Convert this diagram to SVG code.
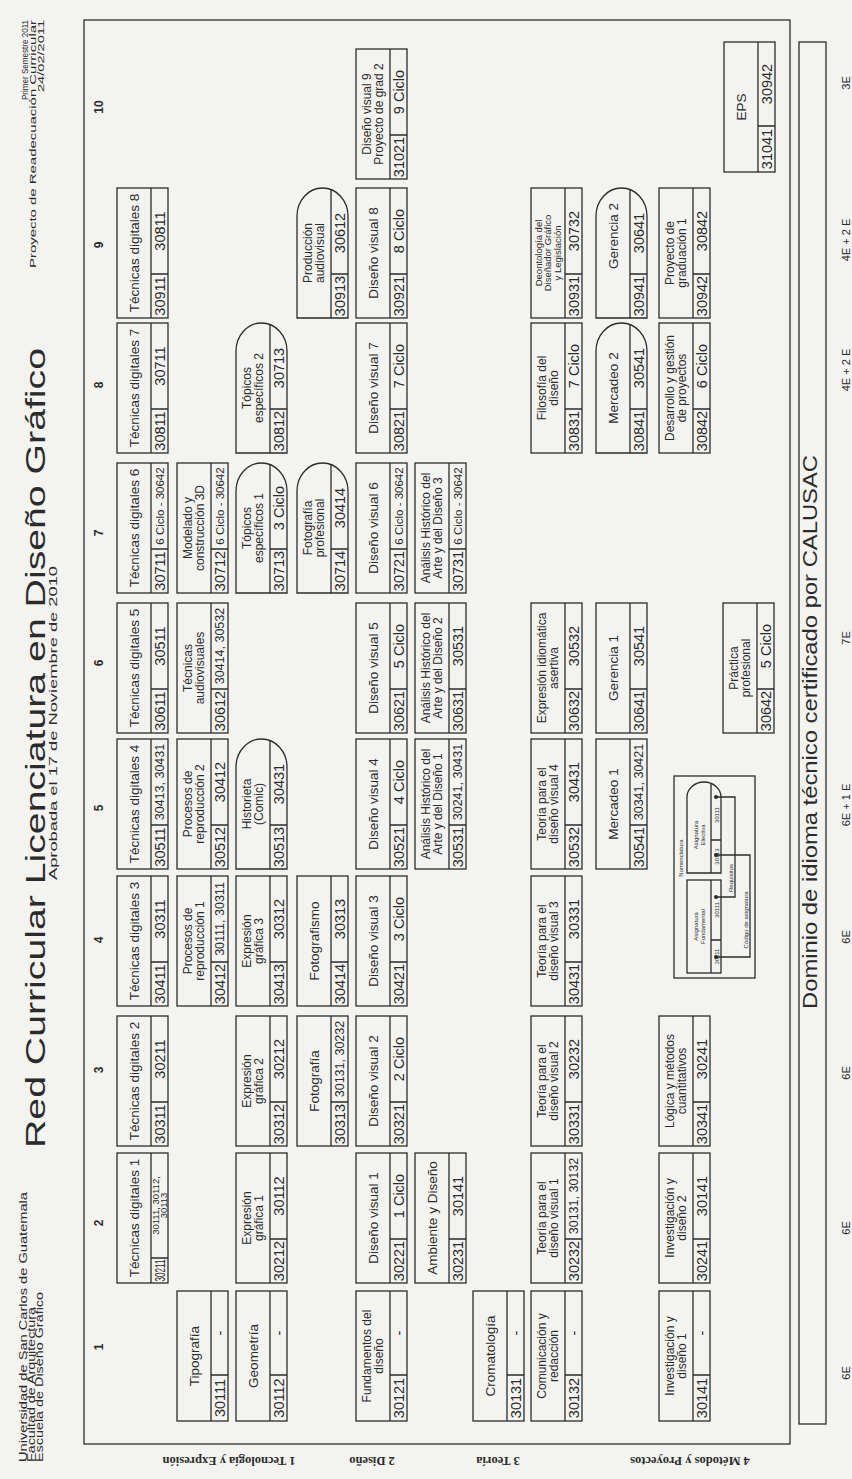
<svg xmlns="http://www.w3.org/2000/svg" width="852" height="1479" viewBox="0 0 852 1479">
<defs><style>
.bg{fill:#f3f3f0}
.b{fill:none;stroke:#2b2b2b;stroke-width:1.3}
.t{font-family:'Liberation Sans',Arial,sans-serif;fill:#2b2b2b;text-anchor:middle}
.nm{font-size:13.5px}
.n2{font-size:12px}
.n3{font-size:9.5px}
.cd{font-size:14.5px}
.p2{font-size:12.5px}
.p3{font-size:11.5px}
.p4{font-size:9.5px}
.hd{font-family:'Liberation Sans',Arial,sans-serif;fill:#2b2b2b}
.num{font-family:'Liberation Sans',Arial,sans-serif;font-weight:bold;font-size:12px;fill:#2b2b2b;text-anchor:middle}
.rl{font-family:'Liberation Serif','Times New Roman',serif;font-weight:bold;font-size:12.5px;fill:#2b2b2b;text-anchor:middle}
.lg{font-size:6px}
.dot{fill:#2b2b2b}
</style></defs>
<rect class="bg" width="852" height="1479"/>

<g id="header">
<text class="hd" font-size="28" transform="translate(45,1148) rotate(-90)" textLength="800" lengthAdjust="spacingAndGlyphs">Red Curricular Licenciatura en Diseño Gráfico</text>
<text class="hd" font-size="11.5" transform="translate(57,880) rotate(-90)" textLength="314" lengthAdjust="spacingAndGlyphs">Aprobada el 17 de Noviembre de 2010</text>
<text class="hd" font-size="10" transform="translate(27,1462) rotate(-90)" textLength="270" lengthAdjust="spacingAndGlyphs">Universidad de San Carlos de Guatemala</text>
<text class="hd" font-size="10" transform="translate(35,1462) rotate(-90)" textLength="155" lengthAdjust="spacingAndGlyphs">Facultad de Arquitectura</text>
<text class="hd" font-size="10" transform="translate(43,1462) rotate(-90)" textLength="170" lengthAdjust="spacingAndGlyphs">Escuela de Diseño Gráfico</text>
<text class="hd" font-size="9.5" transform="translate(28,100) rotate(-90)" textLength="80" lengthAdjust="spacingAndGlyphs">Primer Semestre 2011</text>
<text class="hd" font-size="9.5" transform="translate(36,268) rotate(-90)" textLength="248" lengthAdjust="spacingAndGlyphs">Proyecto de Readecuación Curricular</text>
<text class="hd" font-size="9.5" transform="translate(44,92) rotate(-90)" textLength="72" lengthAdjust="spacingAndGlyphs">24/02/2011</text>
</g>

<rect id="frame" class="b" x="84" y="20" width="706" height="1424"/>

<g id="colnums">
<text class="num" transform="translate(103,1347) rotate(-90)">1</text>
<text class="num" transform="translate(103,1223) rotate(-90)">2</text>
<text class="num" transform="translate(103,1070) rotate(-90)">3</text>
<text class="num" transform="translate(103,940) rotate(-90)">4</text>
<text class="num" transform="translate(103,808) rotate(-90)">5</text>
<text class="num" transform="translate(103,663) rotate(-90)">6</text>
<text class="num" transform="translate(103,533) rotate(-90)">7</text>
<text class="num" transform="translate(103,385) rotate(-90)">8</text>
<text class="num" transform="translate(103,245) rotate(-90)">9</text>
<text class="num" transform="translate(103,107) rotate(-90)">10</text>
</g>

<g id="rowlabels">
<text class="rl" transform="translate(229,1457) rotate(180)">1 Tecnología y Expresión</text>
<text class="rl" transform="translate(372,1457) rotate(180)">2 Diseño</text>
<text class="rl" transform="translate(498,1457) rotate(180)">3 Teoría</text>
<text class="rl" transform="translate(690,1457) rotate(180)">4 Métodos y Proyectos</text>
</g>

<!-- Column 1 -->
<g id="n30111" transform="translate(177,1421) rotate(-90)"><rect class="b" width="130" height="51"/><path class="b" d="M0 34H130M46 34V51"/><text class="t nm" x="65" y="21.5">Tipografía</text><text class="t cd" x="23" y="47.5">30111</text><text class="t cd" x="88" y="47.5">-</text></g>
<g id="n30112" transform="translate(236,1421) rotate(-90)"><rect class="b" width="130" height="51"/><path class="b" d="M0 34H130M46 34V51"/><text class="t nm" x="65" y="21.5">Geometría</text><text class="t cd" x="23" y="47.5">30112</text><text class="t cd" x="88" y="47.5">-</text></g>
<g id="n30121" transform="translate(356,1421) rotate(-90)"><rect class="b" width="130" height="51"/><path class="b" d="M0 34H130M46 34V51"/><text class="t n2" x="65" y="14.5">Fundamentos del<tspan x="65" y="27">diseño</tspan></text><text class="t cd" x="23" y="47.5">30121</text><text class="t cd" x="88" y="47.5">-</text></g>
<g id="n30131" transform="translate(473,1421) rotate(-90)"><rect class="b" width="130" height="51"/><path class="b" d="M0 34H130M46 34V51"/><text class="t nm" x="65" y="21.5">Cromatología</text><text class="t cd" x="23" y="47.5">30131</text><text class="t cd" x="88" y="47.5">-</text></g>
<g id="n30132" transform="translate(531,1421) rotate(-90)"><rect class="b" width="130" height="51"/><path class="b" d="M0 34H130M46 34V51"/><text class="t n2" x="65" y="14.5">Comunicación y<tspan x="65" y="27">redacción</tspan></text><text class="t cd" x="23" y="47.5">30132</text><text class="t cd" x="88" y="47.5">-</text></g>
<g id="n30141" transform="translate(659,1421) rotate(-90)"><rect class="b" width="130" height="51"/><path class="b" d="M0 34H130M46 34V51"/><text class="t n2" x="65" y="14.5">Investigación y<tspan x="65" y="27">diseño 1</tspan></text><text class="t cd" x="23" y="47.5">30141</text><text class="t cd" x="88" y="47.5">-</text></g>

<!-- Column 2 -->
<g id="n30211" transform="translate(117,1283) rotate(-90)"><rect class="b" width="130" height="51"/><path class="b" d="M0 34H130M25 34V51"/><text class="t nm" x="65" y="21.5">Técnicas digitales 1</text><text class="t cd" x="12.5" y="47.5" textLength="22" lengthAdjust="spacingAndGlyphs">30211</text><text class="t p4" x="77.5" y="42">30111, 30112,<tspan x="77.5" y="50">30113</tspan></text></g>
<g id="n30212" transform="translate(236,1283) rotate(-90)"><rect class="b" width="130" height="51"/><path class="b" d="M0 34H130M44 34V51"/><text class="t n2" x="65" y="14.5">Expresión<tspan x="65" y="27">gráfica 1</tspan></text><text class="t cd" x="22" y="47.5">30212</text><text class="t cd" x="87" y="47.5">30112</text></g>
<g id="n30221" transform="translate(356,1283) rotate(-90)"><rect class="b" width="130" height="51"/><path class="b" d="M0 34H130M44 34V51"/><text class="t nm" x="65" y="21.5">Diseño visual 1</text><text class="t cd" x="22" y="47.5">30221</text><text class="t cd" x="87" y="47.5">1 Ciclo</text></g>
<g id="n30231" transform="translate(415,1283) rotate(-90)"><rect class="b" width="130" height="51"/><path class="b" d="M0 34H130M44 34V51"/><text class="t nm" x="65" y="21.5">Ambiente y Diseño</text><text class="t cd" x="22" y="47.5">30231</text><text class="t cd" x="87" y="47.5">30141</text></g>
<g id="n30232" transform="translate(531,1283) rotate(-90)"><rect class="b" width="130" height="51"/><path class="b" d="M0 34H130M44 34V51"/><text class="t n2" x="65" y="14.5">Teoría para el<tspan x="65" y="27">diseño visual 1</tspan></text><text class="t cd" x="22" y="47.5">30232</text><text class="t p2" x="87" y="47">30131, 30132</text></g>
<g id="n30241" transform="translate(659,1283) rotate(-90)"><rect class="b" width="130" height="51"/><path class="b" d="M0 34H130M44 34V51"/><text class="t n2" x="65" y="14.5">Investigación y<tspan x="65" y="27">diseño 2</tspan></text><text class="t cd" x="22" y="47.5">30241</text><text class="t cd" x="87" y="47.5">30141</text></g>

<!-- Column 3 -->
<g id="n30311" transform="translate(117,1146) rotate(-90)"><rect class="b" width="130" height="51"/><path class="b" d="M0 34H130M44 34V51"/><text class="t nm" x="65" y="21.5">Técnicas digitales 2</text><text class="t cd" x="22" y="47.5">30311</text><text class="t cd" x="87" y="47.5">30211</text></g>
<g id="n30312" transform="translate(236,1146) rotate(-90)"><rect class="b" width="130" height="51"/><path class="b" d="M0 34H130M44 34V51"/><text class="t n2" x="65" y="14.5">Expresión<tspan x="65" y="27">gráfica 2</tspan></text><text class="t cd" x="22" y="47.5">30312</text><text class="t cd" x="87" y="47.5">30212</text></g>
<g id="n30313" transform="translate(297,1146) rotate(-90)"><rect class="b" width="130" height="51"/><path class="b" d="M0 34H130M44 34V51"/><text class="t nm" x="65" y="21.5">Fotografía</text><text class="t cd" x="22" y="47.5">30313</text><text class="t p2" x="87" y="47">30131, 30232</text></g>
<g id="n30321" transform="translate(356,1146) rotate(-90)"><rect class="b" width="130" height="51"/><path class="b" d="M0 34H130M44 34V51"/><text class="t nm" x="65" y="21.5">Diseño visual 2</text><text class="t cd" x="22" y="47.5">30321</text><text class="t cd" x="87" y="47.5">2 Ciclo</text></g>
<g id="n30331" transform="translate(531,1146) rotate(-90)"><rect class="b" width="130" height="51"/><path class="b" d="M0 34H130M44 34V51"/><text class="t n2" x="65" y="14.5">Teoría para el<tspan x="65" y="27">diseño visual 2</tspan></text><text class="t cd" x="22" y="47.5">30331</text><text class="t cd" x="87" y="47.5">30232</text></g>
<g id="n30341" transform="translate(659,1146) rotate(-90)"><rect class="b" width="130" height="51"/><path class="b" d="M0 34H130M44 34V51"/><text class="t n2" x="65" y="14.5">Lógica y métodos<tspan x="65" y="27">cuantitativos</tspan></text><text class="t cd" x="22" y="47.5">30341</text><text class="t cd" x="87" y="47.5">30241</text></g>

<!-- Column 4 -->
<g id="n30411" transform="translate(117,1006) rotate(-90)"><rect class="b" width="130" height="51"/><path class="b" d="M0 34H130M44 34V51"/><text class="t nm" x="65" y="21.5">Técnicas digitales 3</text><text class="t cd" x="22" y="47.5">30411</text><text class="t cd" x="87" y="47.5">30311</text></g>
<g id="n30412" transform="translate(177,1006) rotate(-90)"><rect class="b" width="130" height="51"/><path class="b" d="M0 34H130M44 34V51"/><text class="t n2" x="65" y="14.5">Procesos de<tspan x="65" y="27">reproducción 1</tspan></text><text class="t cd" x="22" y="47.5">30412</text><text class="t p2" x="87" y="47">30111, 30311</text></g>
<g id="n30413" transform="translate(236,1006) rotate(-90)"><rect class="b" width="130" height="51"/><path class="b" d="M0 34H130M44 34V51"/><text class="t n2" x="65" y="14.5">Expresión<tspan x="65" y="27">gráfica 3</tspan></text><text class="t cd" x="22" y="47.5">30413</text><text class="t cd" x="87" y="47.5">30312</text></g>
<g id="n30414" transform="translate(297,1006) rotate(-90)"><rect class="b" width="130" height="51"/><path class="b" d="M0 34H130M44 34V51"/><text class="t nm" x="65" y="21.5">Fotografismo</text><text class="t cd" x="22" y="47.5">30414</text><text class="t cd" x="87" y="47.5">30313</text></g>
<g id="n30421" transform="translate(356,1006) rotate(-90)"><rect class="b" width="130" height="51"/><path class="b" d="M0 34H130M44 34V51"/><text class="t nm" x="65" y="21.5">Diseño visual 3</text><text class="t cd" x="22" y="47.5">30421</text><text class="t cd" x="87" y="47.5">3 Ciclo</text></g>
<g id="n30431" transform="translate(531,1006) rotate(-90)"><rect class="b" width="130" height="51"/><path class="b" d="M0 34H130M44 34V51"/><text class="t n2" x="65" y="14.5">Teoría para el<tspan x="65" y="27">diseño visual 3</tspan></text><text class="t cd" x="22" y="47.5">30431</text><text class="t cd" x="87" y="47.5">30331</text></g>

<!-- Column 5 -->
<g id="n30511" transform="translate(117,869) rotate(-90)"><rect class="b" width="130" height="51"/><path class="b" d="M0 34H130M44 34V51"/><text class="t nm" x="65" y="21.5">Técnicas digitales 4</text><text class="t cd" x="22" y="47.5">30511</text><text class="t p2" x="87" y="47">30413, 30431</text></g>
<g id="n30512" transform="translate(177,869) rotate(-90)"><rect class="b" width="130" height="51"/><path class="b" d="M0 34H130M44 34V51"/><text class="t n2" x="65" y="14.5">Procesos de<tspan x="65" y="27">reproducción 2</tspan></text><text class="t cd" x="22" y="47.5">30512</text><text class="t cd" x="87" y="47.5">30412</text></g>
<g id="n30513" transform="translate(236,869) rotate(-90)"><path class="b" d="M0 0H102A28 25.5 0 0 1 102 51H0Z"/><path class="b" d="M0 34H128.4M44 34V51"/><text class="t n2" x="65" y="14.5">Historieta<tspan x="65" y="27">(Comic)</tspan></text><text class="t cd" x="22" y="47.5">30513</text><text class="t cd" x="85" y="47.5">30431</text></g>
<g id="n30521" transform="translate(356,869) rotate(-90)"><rect class="b" width="130" height="51"/><path class="b" d="M0 34H130M44 34V51"/><text class="t nm" x="65" y="21.5">Diseño visual 4</text><text class="t cd" x="22" y="47.5">30521</text><text class="t cd" x="87" y="47.5">4 Ciclo</text></g>
<g id="n30531" transform="translate(415,869) rotate(-90)"><rect class="b" width="130" height="51"/><path class="b" d="M0 34H130M44 34V51"/><text class="t n2" x="65" y="14.5">Análisis Histórico del<tspan x="65" y="27">Arte y del Diseño 1</tspan></text><text class="t cd" x="22" y="47.5">30531</text><text class="t p2" x="87" y="47">30241, 30431</text></g>
<g id="n30532" transform="translate(531,869) rotate(-90)"><rect class="b" width="130" height="51"/><path class="b" d="M0 34H130M44 34V51"/><text class="t n2" x="65" y="14.5">Teoría para el<tspan x="65" y="27">diseño visual 4</tspan></text><text class="t cd" x="22" y="47.5">30532</text><text class="t cd" x="87" y="47.5">30431</text></g>
<g id="n30541" transform="translate(596,869) rotate(-90)"><rect class="b" width="130" height="51"/><path class="b" d="M0 34H130M44 34V51"/><text class="t nm" x="65" y="21.5">Mercadeo 1</text><text class="t cd" x="22" y="47.5">30541</text><text class="t p2" x="87" y="47">30341, 30421</text></g>

<!-- Column 6 -->
<g id="n30611" transform="translate(117,733) rotate(-90)"><rect class="b" width="130" height="51"/><path class="b" d="M0 34H130M44 34V51"/><text class="t nm" x="65" y="21.5">Técnicas digitales 5</text><text class="t cd" x="22" y="47.5">30611</text><text class="t cd" x="87" y="47.5">30511</text></g>
<g id="n30612" transform="translate(177,733) rotate(-90)"><rect class="b" width="130" height="51"/><path class="b" d="M0 34H130M44 34V51"/><text class="t n2" x="65" y="14.5">Técnicas<tspan x="65" y="27">audiovisuales</tspan></text><text class="t cd" x="22" y="47.5">30612</text><text class="t p2" x="87" y="47">30414, 30532</text></g>
<g id="n30621" transform="translate(356,733) rotate(-90)"><rect class="b" width="130" height="51"/><path class="b" d="M0 34H130M44 34V51"/><text class="t nm" x="65" y="21.5">Diseño visual 5</text><text class="t cd" x="22" y="47.5">30621</text><text class="t cd" x="87" y="47.5">5 Ciclo</text></g>
<g id="n30631" transform="translate(415,733) rotate(-90)"><rect class="b" width="130" height="51"/><path class="b" d="M0 34H130M44 34V51"/><text class="t n2" x="65" y="14.5">Análisis Histórico del<tspan x="65" y="27">Arte y del Diseño 2</tspan></text><text class="t cd" x="22" y="47.5">30631</text><text class="t cd" x="87" y="47.5">30531</text></g>
<g id="n30632" transform="translate(531,733) rotate(-90)"><rect class="b" width="130" height="51"/><path class="b" d="M0 34H130M44 34V51"/><text class="t n2" x="65" y="14.5">Expresión idiomática<tspan x="65" y="27">asertiva</tspan></text><text class="t cd" x="22" y="47.5">30632</text><text class="t cd" x="87" y="47.5">30532</text></g>
<g id="n30641" transform="translate(596,733) rotate(-90)"><rect class="b" width="130" height="51"/><path class="b" d="M0 34H130M44 34V51"/><text class="t nm" x="65" y="21.5">Gerencia 1</text><text class="t cd" x="22" y="47.5">30641</text><text class="t cd" x="87" y="47.5">30541</text></g>
<g id="n30642" transform="translate(723,733) rotate(-90)"><rect class="b" width="130" height="51"/><path class="b" d="M0 34H130M44 34V51"/><text class="t n2" x="65" y="14.5">Práctica<tspan x="65" y="27">profesional</tspan></text><text class="t cd" x="22" y="47.5">30642</text><text class="t cd" x="87" y="47.5">5 Ciclo</text></g>

<!-- Column 7 -->
<g id="n30711" transform="translate(117,593) rotate(-90)"><rect class="b" width="130" height="51"/><path class="b" d="M0 34H130M44 34V51"/><text class="t nm" x="65" y="21.5">Técnicas digitales 6</text><text class="t cd" x="22" y="47.5">30711</text><text class="t p3" x="87" y="46.5">6 Ciclo - 30642</text></g>
<g id="n30712" transform="translate(177,593) rotate(-90)"><rect class="b" width="130" height="51"/><path class="b" d="M0 34H130M44 34V51"/><text class="t n2" x="65" y="14.5">Modelado y<tspan x="65" y="27">construcción 3D</tspan></text><text class="t cd" x="22" y="47.5">30712</text><text class="t p3" x="87" y="46.5">6 Ciclo - 30642</text></g>
<g id="n30713" transform="translate(236,593) rotate(-90)"><path class="b" d="M0 0H102A28 25.5 0 0 1 102 51H0Z"/><path class="b" d="M0 34H128.4M44 34V51"/><text class="t n2" x="65" y="14.5">Tópicos<tspan x="65" y="27">específicos 1</tspan></text><text class="t cd" x="22" y="47.5">30713</text><text class="t cd" x="85" y="47.5">3 Ciclo</text></g>
<g id="n30714" transform="translate(297,593) rotate(-90)"><path class="b" d="M0 0H102A28 25.5 0 0 1 102 51H0Z"/><path class="b" d="M0 34H128.4M44 34V51"/><text class="t n2" x="65" y="14.5">Fotografía<tspan x="65" y="27">profesional</tspan></text><text class="t cd" x="22" y="47.5">30714</text><text class="t cd" x="85" y="47.5">30414</text></g>
<g id="n30721" transform="translate(356,593) rotate(-90)"><rect class="b" width="130" height="51"/><path class="b" d="M0 34H130M44 34V51"/><text class="t nm" x="65" y="21.5">Diseño visual 6</text><text class="t cd" x="22" y="47.5">30721</text><text class="t p3" x="87" y="46.5">6 Ciclo - 30642</text></g>
<g id="n30731" transform="translate(415,593) rotate(-90)"><rect class="b" width="130" height="51"/><path class="b" d="M0 34H130M44 34V51"/><text class="t n2" x="65" y="14.5">Análisis Histórico del<tspan x="65" y="27">Arte y del Diseño 3</tspan></text><text class="t cd" x="22" y="47.5">30731</text><text class="t p3" x="87" y="46.5">6 Ciclo - 30642</text></g>

<!-- Column 8 -->
<g id="n30811" transform="translate(117,453) rotate(-90)"><rect class="b" width="130" height="51"/><path class="b" d="M0 34H130M44 34V51"/><text class="t nm" x="65" y="21.5">Técnicas digitales 7</text><text class="t cd" x="22" y="47.5">30811</text><text class="t cd" x="87" y="47.5">30711</text></g>
<g id="n30812" transform="translate(236,453) rotate(-90)"><path class="b" d="M0 0H102A28 25.5 0 0 1 102 51H0Z"/><path class="b" d="M0 34H128.4M44 34V51"/><text class="t n2" x="65" y="14.5">Tópicos<tspan x="65" y="27">específicos 2</tspan></text><text class="t cd" x="22" y="47.5">30812</text><text class="t cd" x="85" y="47.5">30713</text></g>
<g id="n30821" transform="translate(356,453) rotate(-90)"><rect class="b" width="130" height="51"/><path class="b" d="M0 34H130M44 34V51"/><text class="t nm" x="65" y="21.5">Diseño visual 7</text><text class="t cd" x="22" y="47.5">30821</text><text class="t cd" x="87" y="47.5">7 Ciclo</text></g>
<g id="n30831" transform="translate(531,453) rotate(-90)"><rect class="b" width="130" height="51"/><path class="b" d="M0 34H130M44 34V51"/><text class="t n2" x="65" y="14.5">Filosofía del<tspan x="65" y="27">diseño</tspan></text><text class="t cd" x="22" y="47.5">30831</text><text class="t cd" x="87" y="47.5">7 Ciclo</text></g>
<g id="n30841" transform="translate(596,453) rotate(-90)"><path class="b" d="M0 0H102A28 25.5 0 0 1 102 51H0Z"/><path class="b" d="M0 34H128.4M44 34V51"/><text class="t nm" x="65" y="21.5">Mercadeo 2</text><text class="t cd" x="22" y="47.5">30841</text><text class="t cd" x="85" y="47.5">30541</text></g>
<g id="n30842" transform="translate(659,453) rotate(-90)"><rect class="b" width="130" height="51"/><path class="b" d="M0 34H130M44 34V51"/><text class="t n2" x="65" y="14.5">Desarrollo y gestión<tspan x="65" y="27">de proyectos</tspan></text><text class="t cd" x="22" y="47.5">30842</text><text class="t cd" x="87" y="47.5">6 Ciclo</text></g>

<!-- Column 9 -->
<g id="n30911" transform="translate(117,318) rotate(-90)"><rect class="b" width="130" height="51"/><path class="b" d="M0 34H130M44 34V51"/><text class="t nm" x="65" y="21.5">Técnicas digitales 8</text><text class="t cd" x="22" y="47.5">30911</text><text class="t cd" x="87" y="47.5">30811</text></g>
<g id="n30913" transform="translate(297,318) rotate(-90)"><path class="b" d="M0 0H102A28 25.5 0 0 1 102 51H0Z"/><path class="b" d="M0 34H128.4M44 34V51"/><text class="t n2" x="65" y="14.5">Producción<tspan x="65" y="27">audiovisual</tspan></text><text class="t cd" x="22" y="47.5">30913</text><text class="t cd" x="85" y="47.5">30612</text></g>
<g id="n30921" transform="translate(356,318) rotate(-90)"><rect class="b" width="130" height="51"/><path class="b" d="M0 34H130M44 34V51"/><text class="t nm" x="65" y="21.5">Diseño visual 8</text><text class="t cd" x="22" y="47.5">30921</text><text class="t cd" x="87" y="47.5">8 Ciclo</text></g>
<g id="n30931" transform="translate(531,318) rotate(-90)"><rect class="b" width="130" height="51"/><path class="b" d="M0 34H130M44 34V51"/><text class="t n3" x="65" y="10.5">Deontología del<tspan x="65" y="20">Diseñador Gráfico</tspan><tspan x="65" y="29.5">y Legislación</tspan></text><text class="t cd" x="22" y="47.5">30931</text><text class="t cd" x="87" y="47.5">30732</text></g>
<g id="n30941" transform="translate(596,318) rotate(-90)"><path class="b" d="M0 0H102A28 25.5 0 0 1 102 51H0Z"/><path class="b" d="M0 34H128.4M44 34V51"/><text class="t nm" x="82" y="21.5">Gerencia 2</text><text class="t cd" x="22" y="47.5">30941</text><text class="t cd" x="85" y="47.5">30641</text></g>
<g id="n30942" transform="translate(659,318) rotate(-90)"><rect class="b" width="130" height="51"/><path class="b" d="M0 34H130M44 34V51"/><text class="t n2" x="65" y="14.5">Proyecto de<tspan x="65" y="27">graduación 1</tspan></text><text class="t cd" x="22" y="47.5">30942</text><text class="t cd" x="87" y="47.5">30842</text></g>

<!-- Column 10 -->
<g id="n31021" transform="translate(356,179) rotate(-90)"><rect class="b" width="130" height="51"/><path class="b" d="M0 34H130M44 34V51"/><text class="t n2" x="65" y="14.5">Diseño visual 9<tspan x="65" y="27">Proyecto de grad 2</tspan></text><text class="t cd" x="22" y="47.5">31021</text><text class="t cd" x="87" y="47.5">9 Ciclo</text></g>
<g id="n31041" transform="translate(724,172) rotate(-90)"><rect class="b" width="130" height="51"/><path class="b" d="M0 34H130M46 34V51"/><text class="t nm" x="65" y="21.5">EPS</text><text class="t cd" x="23" y="47.5">31041</text><text class="t cd" x="88" y="47.5">30942</text></g>

<!-- Legend -->
<g id="legend" transform="translate(674,978) rotate(-90)">
<rect class="b" width="202" height="81"/>
<text class="t lg" x="120" y="9">Nomenclatura</text>
<g id="legend-fundamental"><rect class="b" x="5" y="13" width="93" height="34"/><path class="b" d="M5 37H98M38 37V47"/><text class="t lg" x="51.5" y="24">Asignatura<tspan x="51.5" y="31">Fundamental</tspan></text><text class="t lg" x="21.5" y="44.5">30111</text><text class="t lg" x="68" y="44.5">30111</text></g>
<g id="legend-electiva"><path class="b" d="M105 13H181A15 17 0 0 1 181 47H105Z"/><path class="b" d="M105 37H194.4M138 37V47"/><text class="t lg" x="143" y="24">Asignatura<tspan x="143" y="31">Electiva</tspan></text><text class="t lg" x="121.5" y="44.5">30113</text><text class="t lg" x="163" y="44.5">30111</text></g>
<g id="connectors">
<path class="b" d="M21 42V76H123V42M81 42V61H181V42" stroke-width="1"/>
<circle class="dot" cx="21" cy="42" r="2"/><circle class="dot" cx="81" cy="42" r="2"/><circle class="dot" cx="123" cy="42" r="2"/><circle class="dot" cx="181" cy="42" r="2"/>
</g>
<text class="t lg" x="100" y="59">Requisitos</text>
<text class="t lg" x="58" y="74">Código de asignatura</text>
</g>

<!-- Language bar -->
<g id="idioma">
<rect class="b" x="799" y="42" width="27" height="1382"/>
<text class="hd" font-size="20" text-anchor="middle" transform="translate(817,732) rotate(-90)" textLength="554" lengthAdjust="spacingAndGlyphs">Dominio de idioma técnico certificado por CALUSAC</text>
</g>

<g id="credits">
<text class="hd" font-size="11" text-anchor="middle" transform="translate(850,1373) rotate(-90)">6E</text>
<text class="hd" font-size="11" text-anchor="middle" transform="translate(850,1228) rotate(-90)">6E</text>
<text class="hd" font-size="11" text-anchor="middle" transform="translate(850,1073) rotate(-90)">6E</text>
<text class="hd" font-size="11" text-anchor="middle" transform="translate(850,937) rotate(-90)">6E</text>
<text class="hd" font-size="11" text-anchor="middle" transform="translate(850,805) rotate(-90)">6E + 1 E</text>
<text class="hd" font-size="11" text-anchor="middle" transform="translate(850,638) rotate(-90)">7E</text>
<text class="hd" font-size="11" text-anchor="middle" transform="translate(850,370) rotate(-90)">4E + 2 E</text>
<text class="hd" font-size="11" text-anchor="middle" transform="translate(850,240) rotate(-90)">4E + 2 E</text>
<text class="hd" font-size="11" text-anchor="middle" transform="translate(850,83) rotate(-90)">3E</text>
</g>
</svg>
